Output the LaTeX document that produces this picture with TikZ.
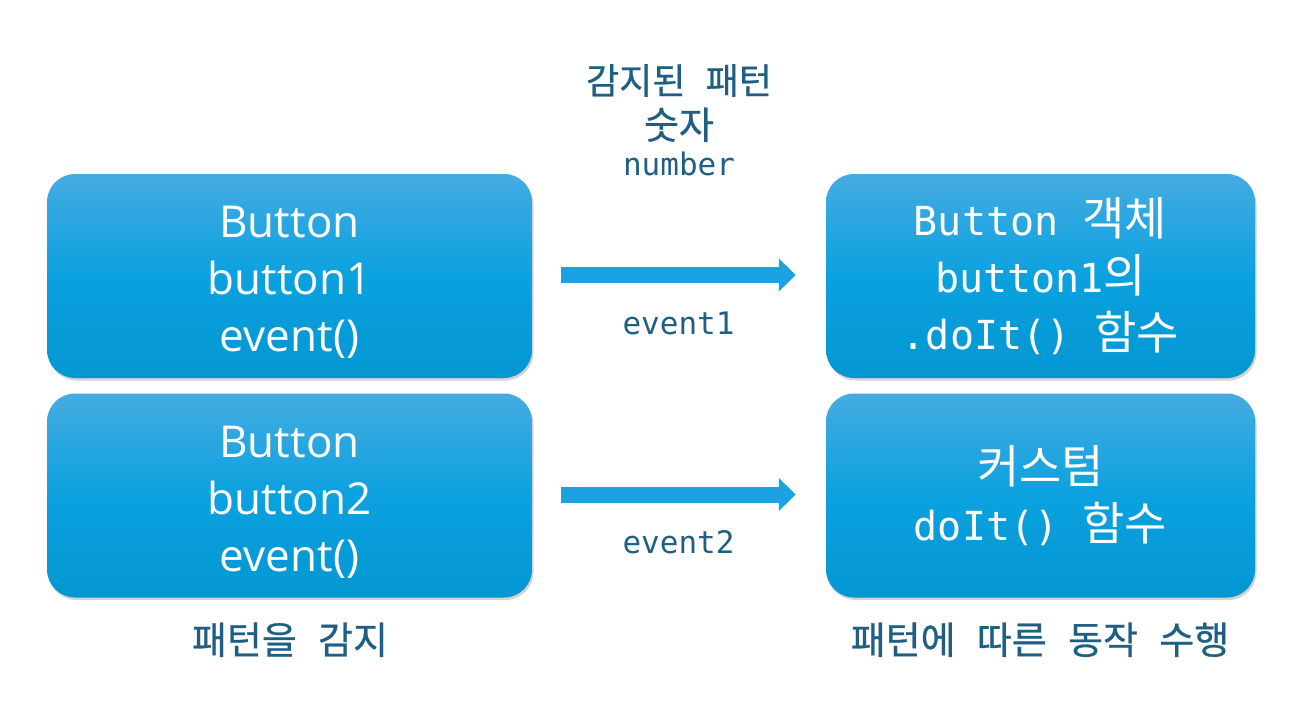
\documentclass[tikz,border=0pt]{standalone}
\usepackage{fontspec}
\setmainfont{Open Sans}
\setmonofont{DejaVu Sans Mono}
\newfontfamily\krfont{Noto Sans CJK KR}[WordSpace=2.5]
\newfontfamily\krheavy{Noto Sans CJK KR}[WordSpace=2.5, FakeBold=0.7]
\usepackage{tikz}
\usetikzlibrary{
arrows.meta,
positioning,
shadows
}
\definecolor{boxtop}{HTML}{45ABE1}
\definecolor{boxmid}{HTML}{0BA1DF}
\definecolor{boxbot}{HTML}{0397D2}
\definecolor{arrowblue}{HTML}{1AA2E2}
\definecolor{labelblue}{HTML}{1E5F83}

\newcommand{\hg}[1]{{\krfont\fontsize{46}{57}\selectfont #1}}
\newcommand{\topstrut}{\rule{0pt}{44pt}}

\begin{document}
\begin{tikzpicture}[
  x=1pt, y=-1pt,
  every node/.style={inner sep=0pt},
  btnbox/.style={rounded corners=28pt,
                 minimum width=485pt, minimum height=204pt,
                 top color=boxtop, bottom color=boxbot, middle color=boxmid,
                 drop shadow={opacity=0.35, shadow xshift=1.5pt, shadow yshift=-2.5pt},
                 text=white, align=center},
  srcbox/.style={btnbox, font=\fontsize{44}{57}\selectfont},
  dstbox/.style={btnbox, minimum width=429pt,
                 font=\ttfamily\fontsize{40}{57}\selectfont},
  flow/.style={arrowblue, line width=16pt,
               -{Triangle[length=17pt, width=32pt]}},
  evlabel/.style={labelblue, font=\ttfamily\fontsize{31}{36}\selectfont},
  krlabel/.style={labelblue, font=\krheavy\fontsize{38}{44}\selectfont}
]
\useasboundingbox (0,0) rectangle (1302,702);

%% Title over the arrows
\node[labelblue, font=\krheavy\fontsize{36}{40}\selectfont, anchor=base]
  (pattern) at (679, 94) {감지된 패턴};
\node[labelblue, font=\krheavy\fontsize{38}{44}\selectfont, anchor=base]
  (numkr) at (679, 139) {숫자};
\node[evlabel, anchor=base] (numen) at (679, 175) {number};

%% Left column: buttons
\node[srcbox] (btn1) at (289.5, 276) {\topstrut Button\\button1\\event()};
\node[srcbox] (btn2) at (289.5, 495.5) {\topstrut Button\\button2\\event()};

%% Right column: actions
\node[dstbox] (act1) at (1040.5, 276)
  {Button \hg{객체}\\button1\hg{의}\\.doIt() \hg{함수}};
\node[dstbox] (act2) at (1040.5, 495.5)
  {\hg{커스텀}\\doIt() \hg{함수}};

%% Arrows
\draw[flow] ([xshift=29pt, yshift=1pt]btn1.east) -- ([xshift=-30pt, yshift=1pt]act1.west)
  node[evlabel, midway, yshift=-48pt] (ev1) {event1};
\draw[flow] ([xshift=29pt, yshift=1pt]btn2.east) -- ([xshift=-30pt, yshift=1pt]act2.west)
  node[evlabel, midway, yshift=-48pt] (ev2) {event2};

%% Captions
\node[krlabel, anchor=base] (detect) at (290, 654) {패턴을 감지};
\node[krlabel, anchor=base] (perform) at (1040, 654) {패턴에 따른 동작 수행};

\end{tikzpicture}
\end{document}
